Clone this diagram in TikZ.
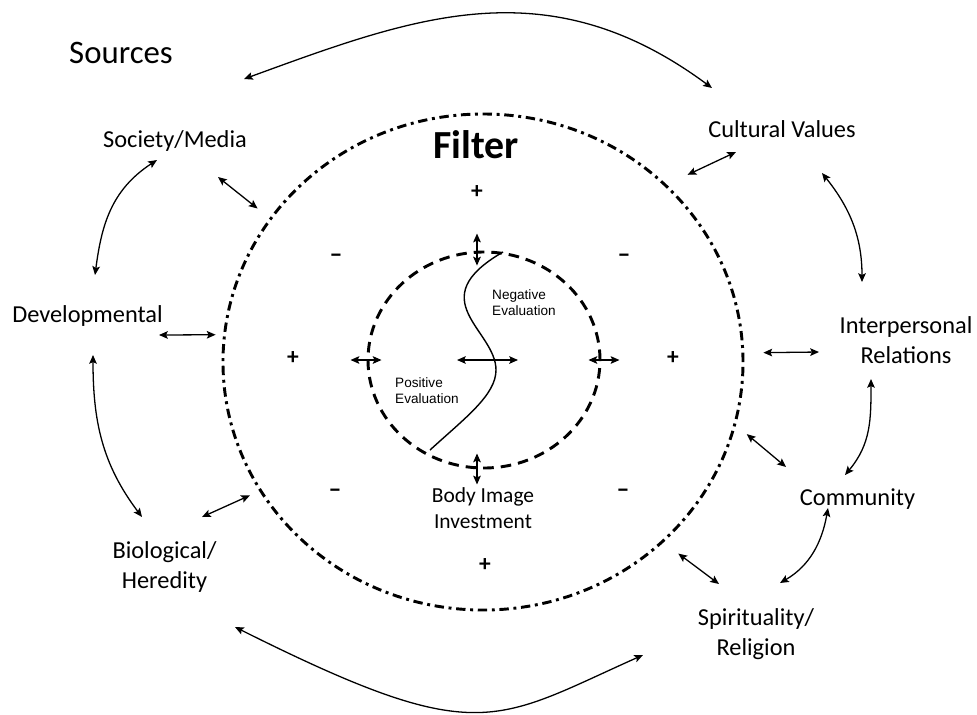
\documentclass[tikz,border=0pt]{standalone}
\usepackage{fontspec}
\setmainfont{Carlito}
\newfontfamily\evalfont{Liberation Sans}
\usetikzlibrary{arrows.meta, calc, shapes.geometric}

\begin{document}
\begin{tikzpicture}[
    x=0.03cm, y=-0.03cm,
    source/.style={inner sep=0pt, font=\fontsize{20.8}{25.5}\selectfont},
    evaltext/.style={inner sep=0pt, align=left, font=\evalfont\fontsize{11.6}{13.6}\selectfont},
    sign/.style={inner sep=0pt, font=\fontsize{20}{24}\selectfont\bfseries},
    ring/.style={ellipse, draw, line width=2.5pt, inner sep=0pt},
    biarrow/.style={{Stealth[length=7.5pt,width=6.5pt,inset=1.5pt]}-{Stealth[length=7.5pt,width=6.5pt,inset=1.5pt]}, line width=1.1pt}
]
\path[use as bounding box, fill=white] (0,0) rectangle (977,714);

% filter rings
\node[ring, minimum width=15.6cm, minimum height=14.88cm, dash pattern=on 8pt off 4pt on 2.5pt off 4pt] (filter) at (483,362) {};
\node[ring, minimum width=6.96cm, minimum height=6.48cm, dash pattern=on 9pt off 6pt] (eval) at (484,360) {};

% titles
\node[inner sep=0pt, anchor=base, font=\fontsize{28}{32}\selectfont] (sources) at (121,63) {Sources};
\node[inner sep=0pt, anchor=base, font=\fontsize{34}{40}\selectfont\bfseries] (filtertitle) at (476,158) {Filter};

% sources
\node[source, anchor=base] (soc) at (175,147) {Society/Media};
\node[source, anchor=base] (cult) at (782,137) {Cultural Values};
\node[source, anchor=base] (dev) at (87.5,322.5) {Developmental};
\node[source, align=center] (interp) at (906,340.5) {Interpersonal\\Relations};
\node[source, anchor=base] (comm) at (857.5,505) {Community};
\node[source, align=center] (bio) at (164.5,567) {Biological/\\Heredity};
\node[source, align=center] (spir) at (756,634.5) {Spirituality/\\Religion};

% inside the filter
\node[evaltext, anchor=west] (neg) at (492,302.5) {Negative\\Evaluation};
\node[evaltext, anchor=west] (pos) at (395,391) {Positive\\Evaluation};
\node[inner sep=0pt, align=center, font=\fontsize{18.3}{22}\selectfont] (invest) at (483,508) {Body Image\\Investment};

\foreach \pos [count=\i] in {(477,192), (293,358), (673,358), (485,565)}
    \node[sign] (plus\i) at \pos {+};
\foreach \pos [count=\i] in {(336,258), (624,258), (335,493), (623,493)}
    \node[sign, font=\fontsize{22}{26}\selectfont\bfseries] (minus\i) at \pos {–};

\draw[line width=1.2pt] (503,252) .. controls (420,300) and (496,330) .. (496,370)
    .. controls (496,395) and (465,418) .. (430,450);

% arrows between sources
\draw[biarrow] ($(soc.base)+(69,-68)$) .. controls +(170,-62) and +(-165,-122) .. ($(cult.base)+(-70,-49)$);
\draw[biarrow] ($(bio)+(70.5,60)$) .. controls +(244,122) and +(-150,67) .. ($(spir)+(-113,20.5)$);
\draw[biarrow] ($(soc.base)+(-18,13)$) .. controls +(-46,30) and +(6.5,-49.5) .. ($(dev.base)+(7.5,-47.5)$);
\draw[biarrow] ($(dev.base)+(5.5,32.5)$) .. controls +(0,66) and +(-40,-53) .. ($(bio)+(-22.5,-50)$);
\draw[biarrow] ($(cult.base)+(40,36)$) .. controls +(28,35) and +(0,-45) .. ($(interp)+(-44,-58.5)$);
\draw[biarrow] ($(interp)+(-35,38.5)$) .. controls +(0,40) and +(26,-31) .. ($(comm.base)+(-12.5,-30)$);
\draw[biarrow] ($(comm.base)+(-29.5,3)$) .. controls +(-6,34) and +(30,-17.5) .. ($(spir)+(24,-51.5)$);

% arrows to the filter
\draw[biarrow, shorten >=13pt] ($(soc.base)+(43,30)$) -- (filter.146);
\draw[biarrow, shorten >=6.4pt] ($(dev.base)+(71.5,12.5)$) -- (filter.174);
\draw[biarrow, shorten >=8.8pt] ($(bio)+(37.5,-50)$) -- (filter.210);
\draw[biarrow, shorten >=19.6pt] ($(cult.base)+(-46,15)$) -- (filter.44);
\draw[biarrow, shorten >=16.3pt] ($(interp)+(-87,11.5)$) -- (filter.2);
\draw[biarrow, shorten >=12pt] ($(comm.base)+(-71.5,-38)$) -- (filter.346);
\draw[biarrow, shorten >=15.8pt] ($(spir)+(-37,-50.5)$) -- (filter.315);

% arrows across the evaluation ring
\draw[biarrow] ($(eval.center)+(-27,0)$) -- ($(eval.center)+(34,0)$);
\draw[biarrow] ($(eval.west)+(-16,0)$) -- ($(eval.west)+(15,0)$);
\draw[biarrow] ($(eval.east)+(-13,0)$) -- ($(eval.east)+(18,0)$);
\draw[biarrow] ($(eval.north)+(-7,-17)$) -- ($(eval.north)+(-7,15)$);
\draw[biarrow] ($(eval.south)+(-7,-16)$) -- ($(eval.south)+(-7,15)$);

\end{tikzpicture}
\end{document}
